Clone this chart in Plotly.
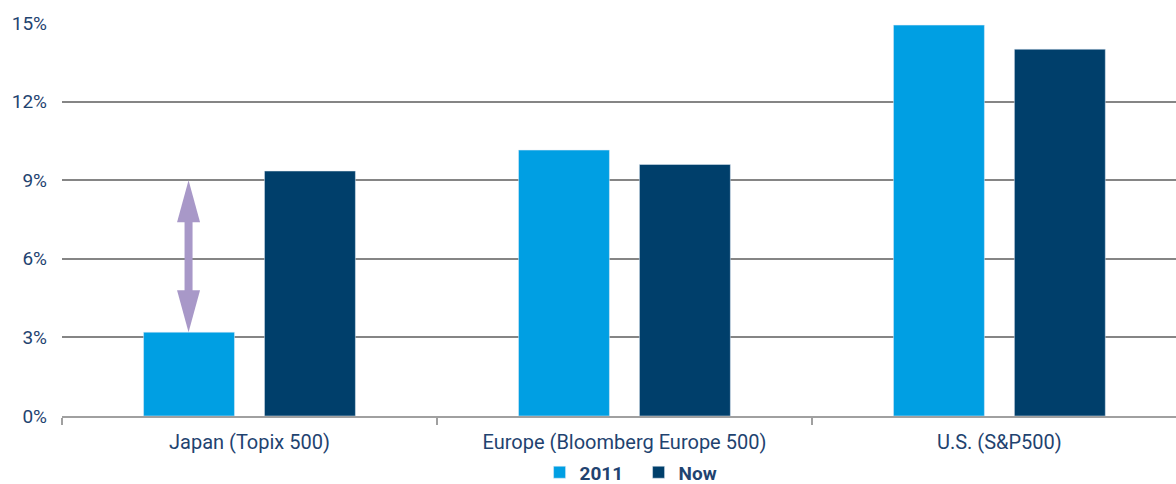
import plotly.graph_objects as go

categories = ["Japan (Topix 500)", "Europe (Bloomberg Europe 500)", "U.S. (S&P500)"]
series_2011 = [3.2, 10.15, 14.92]
series_now = [9.35, 9.6, 14.0]
y_ticks = [0, 3, 6, 9, 12, 15]
y_ticklabels = ["0%", "3%", "6%", "9%", "12%", "15%"]
arrow_from = 3.2
arrow_to = 9.0

FONT = "Roboto, sans-serif"
TXT = "#1F4370"
ARROW = "#A898C8"

fig = go.Figure()
fig.add_trace(go.Bar(x=categories, y=series_2011, name="2011", marker_color="#009FE3"))
fig.add_trace(go.Bar(x=categories, y=series_now, name="Now", marker_color="#003F6B"))

# position of the 2011 bar inside the first category (group offset in category units)
bar_offset = -0.1625
arrow_x = bar_offset

# shaft (no heads), shortened by standoff to leave room for heads
fig.add_annotation(
    x=arrow_x, y=arrow_from, ax=arrow_x, ay=arrow_to,
    xref="x", yref="y", axref="x", ayref="y",
    showarrow=True, arrowhead=0, startarrowhead=0,
    standoff=40, startstandoff=40,
    arrowwidth=8, arrowcolor=ARROW, text="",
)
# arrow heads drawn as pixel-sized triangles anchored at the tips
fig.add_shape(type="path", xref="x", yref="y", xsizemode="pixel", ysizemode="pixel",
              xanchor=arrow_x, yanchor=arrow_to,
              path="M0,0 L-11.5,-42 L11.5,-42 Z", fillcolor=ARROW, line_width=0, layer="above")
fig.add_shape(type="path", xref="x", yref="y", xsizemode="pixel", ysizemode="pixel",
              xanchor=arrow_x, yanchor=arrow_from,
              path="M0,0 L-11.5,42 L11.5,42 Z", fillcolor=ARROW, line_width=0, layer="above")

fig.update_layout(
    width=1176, height=484,
    margin=dict(l=62, r=0, t=23, b=68),
    plot_bgcolor="white", paper_bgcolor="white",
    barmode="group", bargap=0.355, bargroupgap=0.248,
    font=dict(family=FONT, size=19, color=TXT),
    legend=dict(orientation="h", x=0.543, xanchor="center", xref="container",
                y=0.024, yanchor="middle", yref="container",
                font=dict(size=19, color=TXT, family="Roboto, sans-serif", weight="bold"),
                traceorder="normal", entrywidth=54, entrywidthmode="pixels"),
    showlegend=True,
)
fig.update_xaxes(
    type="category", range=[-0.5, 2.471],
    tickson="boundaries", ticks="outside", ticklen=7, tickcolor="#A0A0A0", tickwidth=1.5,
    showline=True, linecolor="#A0A0A0", linewidth=2, showgrid=False,
    tickfont=dict(size=20, color=TXT), ticklabelstandoff=7,
)
fig.update_yaxes(
    range=[0, 15], tickvals=y_ticks, ticktext=y_ticklabels,
    showgrid=True, gridcolor="#858585", gridwidth=1.5, zeroline=False,
    showline=False, ticks="", tickfont=dict(size=19, color=TXT), ticklabelstandoff=14,
)
fig.write_html("out.html")
